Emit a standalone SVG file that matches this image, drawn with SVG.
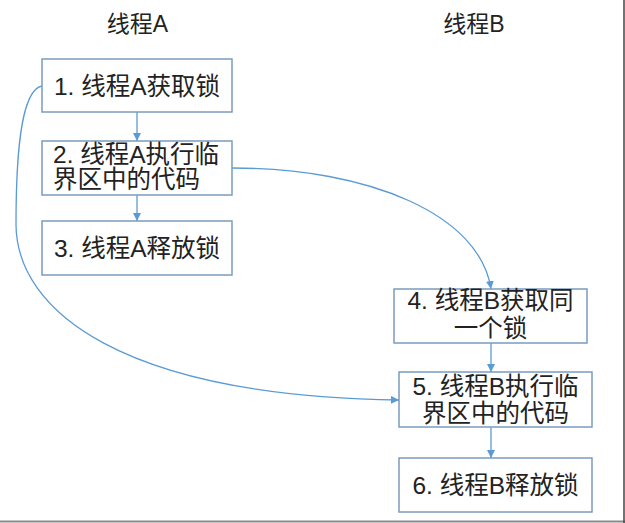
<svg xmlns="http://www.w3.org/2000/svg" width="625" height="523" viewBox="0 0 625 523">
<defs>
<style>
.box{fill:#fff;stroke:#7b9cbf;stroke-width:1.5}
.t{font-family:"Liberation Sans","Noto Sans CJK SC",sans-serif;font-size:24.5px;fill:#222}
.h{font-size:23px}
.c{text-anchor:middle}
.ln{fill:none;stroke:#5b9bd5;stroke-width:1.3}
</style>
<marker id="ah" viewBox="0 0 10 10" refX="10" refY="5" markerWidth="8" markerHeight="8" markerUnits="userSpaceOnUse" orient="auto">
<path d="M0,0 L10,5 L0,10 z" fill="#5b9bd5"/>
</marker>
</defs>
<rect width="625" height="523" fill="#fff"/>
<line x1="0" y1="521.5" x2="625" y2="521.5" stroke="#8a8a8a" stroke-width="2"/>
<line x1="624" y1="0" x2="624" y2="523" stroke="#444" stroke-width="1.5"/>
<text class="t h c" x="137.5" y="32">线程A</text>
<text class="t h c" x="474" y="32">线程B</text>
<g id="connectors">
<line class="ln" x1="137" y1="112" x2="137" y2="141" marker-end="url(#ah)"/>
<line class="ln" x1="137" y1="195" x2="137" y2="221" marker-end="url(#ah)"/>
<line class="ln" x1="491" y1="343" x2="491" y2="372" marker-end="url(#ah)"/>
<line class="ln" x1="491" y1="427" x2="491" y2="458" marker-end="url(#ah)"/>
<path class="ln" d="M232,168 C370,168 480,215 491,289" marker-end="url(#ah)"/>
<path class="ln" d="M42,86 C20,90 16,160 16,225 C17,310 120,396 399,400" marker-end="url(#ah)"/>
</g>
<g id="n1"><rect class="box" x="42" y="59" width="190" height="53"/><text class="t c" x="137" y="95">1. 线程A获取锁</text></g>
<g id="n2"><rect class="box" x="42" y="141" width="190" height="54"/><text class="t" x="53" y="163">2. 线程A执行临</text><text class="t" x="53" y="188">界区中的代码</text></g>
<g id="n3"><rect class="box" x="42" y="221" width="190" height="54"/><text class="t c" x="137" y="257">3. 线程A释放锁</text></g>
<g id="n4"><rect class="box" x="394" y="289" width="193" height="54"/><text class="t c" x="490.5" y="309">4. 线程B获取同</text><text class="t c" x="490.5" y="337">一个锁</text></g>
<g id="n5"><rect class="box" x="399" y="372" width="193" height="55"/><text class="t c" x="495.5" y="395">5. 线程B执行临</text><text class="t c" x="495.5" y="422">界区中的代码</text></g>
<g id="n6"><rect class="box" x="399" y="458" width="193" height="54"/><text class="t c" x="495.5" y="494">6. 线程B释放锁</text></g>
</svg>
